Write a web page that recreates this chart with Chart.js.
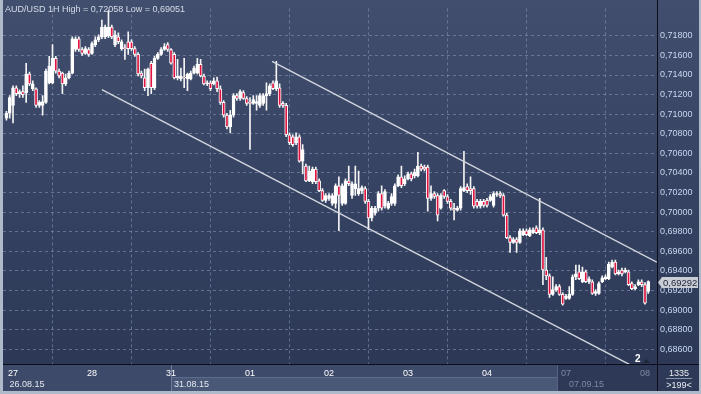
<!DOCTYPE html>
<html>
<head>
<meta charset="utf-8">
<script src="https://cdn.jsdelivr.net/npm/chart.js@4.4.1/dist/chart.umd.min.js"></script>
<style>
  html, body { margin: 0; padding: 0; background: #aeb9ca; }
  #wrap { width: 701px; height: 394px; }
</style>
</head>
<body>
<div id="wrap"><canvas id="fxChart" width="701" height="394"></canvas></div>
<script>
// ── AUD/USD hourly candles, 26.08.15 22:00 -> 08.09.15 01:00 ──
const symbolText = 'AUD/USD 1H';

const dayLabels  = ['27', '28', '31', '01', '02', '03', '04', '07', '08'];
const dayStarts  = [2, 26, 50, 74, 98, 122, 146, 170, 194];
const weekLabels = ['26.08.15', '31.08.15', '07.09.15'];
const weekStarts = [0, 50, 170];

const priceTicks = [
  0.686, 0.688, 0.690, 0.692, 0.694, 0.696, 0.698, 0.700, 0.702,
  0.704, 0.706, 0.708, 0.710, 0.712, 0.714, 0.716, 0.718
];

const opens = [
  0.7096, 0.7101,
  // 27
  0.7109, 0.7127, 0.7121, 0.7123, 0.7122, 0.7141, 0.7126, 0.7126, 0.7109, 0.7109, 0.7112, 0.7132,
  0.7132, 0.7157, 0.7144, 0.7142, 0.7131, 0.7137, 0.7142, 0.7166, 0.7177, 0.7166, 0.7162, 0.7166,
  // 28
  0.7162, 0.7171, 0.7176, 0.7179, 0.7179, 0.7180, 0.7189, 0.7171, 0.7179, 0.7167, 0.7168, 0.7174,
  0.7174, 0.7167, 0.7161, 0.7142, 0.7137, 0.7127, 0.7152, 0.7127, 0.7157, 0.7161, 0.7166, 0.7171,
  // 31
  0.7166, 0.7161, 0.7137, 0.7136, 0.7138, 0.7136, 0.7136, 0.7142, 0.7142, 0.7151, 0.7139, 0.7131,
  0.7132, 0.7131, 0.7134, 0.7126, 0.7112, 0.7099, 0.7087, 0.7099, 0.7119, 0.7116, 0.7122, 0.7116,
  // 01
  0.7112, 0.7111, 0.7111, 0.7109, 0.7111, 0.7119, 0.7121, 0.7132, 0.7126, 0.7127, 0.7111, 0.7109,
  0.7079, 0.7077, 0.7071, 0.7077, 0.7052, 0.7047, 0.7032, 0.7031, 0.7044, 0.7032, 0.7022, 0.7012,
  // 02
  0.7014, 0.7009, 0.7009, 0.7027, 0.7009, 0.7009, 0.7032, 0.7017, 0.7024, 0.7019, 0.7022, 0.7024,
  0.7011, 0.6994, 0.6999, 0.7004, 0.7019, 0.7006, 0.7004, 0.7009, 0.7009, 0.7027, 0.7036, 0.7029,
  // 03
  0.7034, 0.7039, 0.7037, 0.7037, 0.7047, 0.7046, 0.7046, 0.7014, 0.7019, 0.7017, 0.7004, 0.7022,
  0.7016, 0.7011, 0.7004, 0.7002, 0.7004, 0.7022, 0.7026, 0.7024, 0.7024, 0.7011, 0.7006, 0.7011,
  // 04
  0.7012, 0.7012, 0.7007, 0.7018, 0.7019, 0.7017, 0.6997, 0.6974, 0.6969, 0.6972, 0.6969, 0.6977,
  0.6981, 0.6976, 0.6979, 0.6984, 0.6979, 0.6982, 0.6941, 0.6935, 0.6916, 0.6921, 0.6924, 0.6916,
  // 07
  0.6912, 0.6912, 0.6916, 0.6934, 0.6939, 0.6929, 0.6939, 0.6929, 0.6929, 0.6917, 0.6917, 0.6929,
  0.6932, 0.6932, 0.6944, 0.6949, 0.6937, 0.6941, 0.6939, 0.6939, 0.6927, 0.6922, 0.6926, 0.6929,
  // 08
  0.6926, 0.6919
];

const highs = [
  0.7103, 0.7119,
  0.7129, 0.7129, 0.7125, 0.7129, 0.7152, 0.7143, 0.7134, 0.7127, 0.7114, 0.7119, 0.7146, 0.7159,
  0.7171, 0.7159, 0.7146, 0.7143, 0.7141, 0.7144, 0.7179, 0.7179, 0.7179, 0.7168, 0.7169, 0.7168,
  0.7174, 0.7179, 0.7181, 0.7196, 0.7191, 0.72058, 0.7191, 0.7185, 0.7183, 0.7176, 0.7171, 0.7184,
  0.7176, 0.7169, 0.7163, 0.7144, 0.7146, 0.7147, 0.7154, 0.7159, 0.7163, 0.7168, 0.7172, 0.7173,
  0.7167, 0.7163, 0.7156, 0.7147, 0.7157, 0.7142, 0.7144, 0.7149, 0.7157, 0.7156, 0.7141, 0.7134,
  0.7134, 0.7137, 0.7138, 0.7129, 0.7114, 0.7101, 0.7104, 0.7121, 0.7121, 0.7125, 0.7124, 0.7118,
  0.7117, 0.7119, 0.7119, 0.7121, 0.7121, 0.7132, 0.7131, 0.7134, 0.7154, 0.7131, 0.7113, 0.7111,
  0.7081, 0.7079, 0.7081, 0.7079, 0.7069, 0.7049, 0.7047, 0.7046, 0.7046, 0.7034, 0.7024, 0.7019,
  0.7019, 0.7019, 0.7029, 0.7036, 0.7029, 0.7034, 0.7047, 0.7031, 0.7047, 0.7042, 0.7027, 0.7026,
  0.7013, 0.7006, 0.7006, 0.7021, 0.7027, 0.7023, 0.7011, 0.7019, 0.7029, 0.7038, 0.7047, 0.7037,
  0.7041, 0.7041, 0.7044, 0.7061, 0.7049, 0.7048, 0.7048, 0.7027, 0.7021, 0.7019, 0.7019, 0.7023,
  0.7018, 0.7013, 0.7009, 0.7006, 0.7026, 0.7062, 0.7029, 0.7036, 0.7026, 0.7013, 0.7013, 0.7013,
  0.7014, 0.7018, 0.7021, 0.7021, 0.7021, 0.7019, 0.6999, 0.6976, 0.6974, 0.6974, 0.6983, 0.6983,
  0.6983, 0.6984, 0.6984, 0.6986, 0.7014, 0.6984, 0.6954, 0.6937, 0.6934, 0.6926, 0.6926, 0.6918,
  0.6916, 0.6924, 0.6936, 0.6946, 0.6946, 0.6944, 0.6941, 0.6934, 0.6931, 0.6921, 0.6929, 0.6935,
  0.6936, 0.6949, 0.6951, 0.6951, 0.6941, 0.6943, 0.6943, 0.6941, 0.6929, 0.6926, 0.6931, 0.6931,
  0.6928, 0.6930
];

const lows = [
  0.7094, 0.7096,
  0.7091, 0.7119, 0.7117, 0.7117, 0.7112, 0.7129, 0.7124, 0.7107, 0.7107, 0.7099, 0.7111, 0.7131,
  0.7131, 0.7142, 0.7137, 0.7121, 0.7129, 0.7136, 0.7141, 0.7164, 0.7164, 0.7160, 0.7161, 0.7159,
  0.7161, 0.7169, 0.7174, 0.7177, 0.7177, 0.7178, 0.7177, 0.7169, 0.7172, 0.7165, 0.7156, 0.7161,
  0.7165, 0.7159, 0.7139, 0.7137, 0.7124, 0.7119, 0.7121, 0.7125, 0.7156, 0.7160, 0.7165, 0.7164,
  0.7151, 0.7136, 0.7135, 0.7134, 0.7127, 0.7124, 0.7135, 0.7141, 0.7141, 0.7138, 0.7130, 0.7129,
  0.7124, 0.7130, 0.7123, 0.7110, 0.7097, 0.7085, 0.7081, 0.7097, 0.7114, 0.7114, 0.7115, 0.7109,
  0.7064, 0.7110, 0.7104, 0.7107, 0.7109, 0.7104, 0.7119, 0.7125, 0.7124, 0.7107, 0.7107, 0.7077,
  0.7069, 0.7067, 0.7069, 0.7051, 0.7039, 0.7031, 0.7031, 0.7029, 0.7029, 0.7021, 0.7011, 0.7010,
  0.7012, 0.7007, 0.7004, 0.6981, 0.7007, 0.7008, 0.7027, 0.7014, 0.7017, 0.7017, 0.7019, 0.7009,
  0.6982, 0.6991, 0.6997, 0.7001, 0.7002, 0.7004, 0.7003, 0.7007, 0.7007, 0.7026, 0.7025, 0.7027,
  0.7033, 0.7032, 0.7035, 0.7036, 0.7042, 0.7042, 0.7001, 0.7012, 0.7014, 0.6991, 0.7003, 0.7014,
  0.7009, 0.7002, 0.6992, 0.7001, 0.7002, 0.7021, 0.7020, 0.7018, 0.7004, 0.7004, 0.7004, 0.7005,
  0.7005, 0.7011, 0.7005, 0.7016, 0.7015, 0.6996, 0.6973, 0.6959, 0.6968, 0.6959, 0.6968, 0.6976,
  0.6976, 0.6975, 0.6978, 0.6978, 0.6977, 0.6926, 0.6931, 0.6913, 0.6915, 0.6919, 0.6915, 0.69051,
  0.6911, 0.6911, 0.6915, 0.6931, 0.6931, 0.6928, 0.6928, 0.6927, 0.6916, 0.6915, 0.6916, 0.6928,
  0.6931, 0.6931, 0.6943, 0.6936, 0.6936, 0.6935, 0.6938, 0.6925, 0.6921, 0.6921, 0.6925, 0.6924,
  0.6906, 0.6917
];

const closes = [
  0.7101, 0.7117,
  0.7127, 0.7121, 0.7123, 0.7120, 0.7141, 0.7131, 0.7131, 0.7109, 0.7112, 0.7113, 0.7144, 0.7149,
  0.7157, 0.7144, 0.7139, 0.7131, 0.7137, 0.7142, 0.7177, 0.7177, 0.7166, 0.7162, 0.7167, 0.7161,
  0.7172, 0.7176, 0.7179, 0.7189, 0.7189, 0.7189, 0.7179, 0.7181, 0.7174, 0.7174, 0.7167, 0.7167,
  0.7167, 0.7161, 0.7141, 0.7139, 0.7127, 0.7146, 0.7127, 0.7157, 0.7161, 0.7166, 0.7169, 0.7166,
  0.7152, 0.7137, 0.7139, 0.7139, 0.7137, 0.7141, 0.7142, 0.7147, 0.7151, 0.7139, 0.7131, 0.7132,
  0.7126, 0.7134, 0.7126, 0.7112, 0.7099, 0.7087, 0.7099, 0.7119, 0.7116, 0.7123, 0.7116, 0.7111,
  0.7111, 0.7115, 0.7113, 0.7119, 0.7119, 0.7121, 0.7129, 0.7126, 0.7134, 0.7109, 0.7109, 0.7079,
  0.7071, 0.7069, 0.7077, 0.7052, 0.7064, 0.7032, 0.7042, 0.7044, 0.7031, 0.7022, 0.7012, 0.7017,
  0.7017, 0.7017, 0.7027, 0.7017, 0.7027, 0.7032, 0.7029, 0.7029, 0.7029, 0.7024, 0.7025, 0.7011,
  0.6994, 0.7004, 0.7004, 0.7019, 0.7004, 0.7021, 0.7009, 0.7016, 0.7027, 0.7036, 0.7027, 0.7034,
  0.7039, 0.7034, 0.7041, 0.7047, 0.7044, 0.7044, 0.7014, 0.7019, 0.7016, 0.6997, 0.7017, 0.7016,
  0.7011, 0.7004, 0.7002, 0.7004, 0.7024, 0.7025, 0.7022, 0.7022, 0.7006, 0.7006, 0.7011, 0.7007,
  0.7007, 0.7016, 0.7019, 0.7019, 0.7017, 0.6997, 0.6974, 0.6969, 0.6972, 0.6969, 0.6981, 0.6981,
  0.6977, 0.6982, 0.6982, 0.6979, 0.6982, 0.6941, 0.6935, 0.6916, 0.6921, 0.6924, 0.6916, 0.6906,
  0.6914, 0.6916, 0.6934, 0.6937, 0.6932, 0.6939, 0.6929, 0.6932, 0.6917, 0.6919, 0.6927, 0.6933,
  0.6934, 0.6947, 0.6949, 0.6937, 0.6939, 0.6937, 0.6941, 0.6926, 0.6922, 0.6924, 0.6929, 0.6926,
  0.6907, 0.69292
];

// channel lines drawn by hand on the original (bar index, price)
const channelUpper = [{ x: 80.7, y: 0.7154 }, { x: 197.6, y: 0.6949 }];
const channelLower = [{ x: 29.0, y: 0.7125 }, { x: 197.6, y: 0.6830 }];
const channelLabel = '2';

const infoTop    = '1335';
const infoBottom = '>199<';

const FONT = '"Liberation Sans", Arial, sans-serif';
const fmt = (v) => v.toFixed(5).replace('.', ',');

const chromePlugin = {
  id: 'chrome',
  beforeDraw(chart) {
    const { ctx, chartArea: a, width, height } = chart;
    ctx.save();
    ctx.fillStyle = '#aeb9ca';
    ctx.fillRect(0, 0, width, height);

    // plot + price axis background
    const g = ctx.createLinearGradient(0, 0, 0, a.bottom);
    g.addColorStop(0, '#414e6e');
    g.addColorStop(1, '#2c3856');
    ctx.fillStyle = g;
    ctx.fillRect(a.left, 0, width - 2 - a.left, a.bottom);

    // time axis panel
    ctx.fillStyle = '#3d4a6a';
    ctx.fillRect(a.left, a.bottom, a.right - a.left, 27);
    ctx.fillStyle = '#4a5878';
    ctx.fillRect(172, a.bottom + 14, 386, 13);
    ctx.fillStyle = '#5d6c8b';
    ctx.fillRect(172, a.bottom + 13, 386, 1);
    ctx.fillStyle = '#2d3956';
    ctx.fillRect(558, a.bottom, a.right - 558, 27);
    ctx.fillStyle = '#55637e';
    ctx.fillRect(557, a.bottom, 1, 27);
    ctx.fillStyle = '#6e7c98';
    ctx.fillRect(171, a.bottom, 1, 27);

    // corner box
    ctx.fillStyle = '#2d3956';
    ctx.fillRect(a.right, a.bottom, width - 2 - a.right, 27);
    ctx.restore();
  },
  afterDraw(chart) {
    const { ctx, chartArea: a, width, scales } = chart;
    const xs = scales.x, ys = scales.y;
    ctx.save();

    // axis separators
    ctx.fillStyle = '#0b0e16';
    ctx.fillRect(a.right, 0, 1, a.bottom + 27);
    ctx.fillRect(a.left, a.bottom, width - 2 - a.left, 1);

    ctx.font = '9px ' + FONT;
    ctx.textBaseline = 'alphabetic';

    // title
    const hi = Math.max(...highs), lo = Math.min(...lows);
    ctx.fillStyle = '#d6dde8';
    ctx.fillText(symbolText + ' High = ' + fmt(hi) + ' Low = ' + fmt(lo), 5, 11.5);

    // week labels
    weekLabels.forEach((t, i) => {
      ctx.fillStyle = i === weekLabels.length - 1 ? '#7d8aa2' : '#e4e8f0';
      ctx.fillText(t, xs.getPixelForValue(weekStarts[i]) + 3, a.bottom + 22.5);
    });

    // last price marker
    const last = closes[closes.length - 1];
    const py = Math.round(ys.getPixelForValue(last)) + 0.5;
    const bx = a.right + 1;
    ctx.fillStyle = '#c9ced6';
    ctx.beginPath();
    ctx.moveTo(bx, py);
    ctx.lineTo(bx + 4, py - 5.5);
    ctx.lineTo(bx + 40, py - 5.5);
    ctx.lineTo(bx + 40, py + 5.5);
    ctx.lineTo(bx + 4, py + 5.5);
    ctx.closePath();
    ctx.fill();
    ctx.fillStyle = '#1a2236';
    ctx.font = '9.5px ' + FONT;
    ctx.fillText(fmt(last), bx + 5, py + 3.5);

    // channel number
    ctx.font = 'bold 10px ' + FONT;
    ctx.fillStyle = '#ffffff';
    ctx.fillText(channelLabel, 635, a.bottom - 2);
    ctx.fillStyle = '#1e2638';
    ctx.beginPath();
    ctx.moveTo(643, a.bottom - 1);
    ctx.lineTo(646.5, a.bottom - 5);
    ctx.lineTo(650, a.bottom - 1);
    ctx.closePath();
    ctx.fill();

    // corner info box
    const cx = (a.right + width - 2) / 2;
    ctx.font = '9px ' + FONT;
    ctx.textAlign = 'center';
    ctx.fillStyle = '#e8ecf2';
    ctx.fillText(infoTop, cx + 1, a.bottom + 11.5);
    ctx.fillText(infoBottom, cx + 1, a.bottom + 24);
    ctx.fillStyle = '#8a96ac';
    ctx.fillRect(cx - 12, a.bottom + 14, 26, 1);
    ctx.restore();
  }
};

function drawFxChart() {
  const canvas = document.getElementById('fxChart');
  if (!canvas) return;
  const ctx = canvas.getContext('2d');

  const bodies = opens.map((o, i) => ({ x: i, y: [o, closes[i]] }));
  const wicks  = lows.map((l, i) => ({ x: i, y: [l, highs[i]] }));
  const gridDash = { display: false, dash: [3, 3] };

  new Chart(ctx, {
    type: 'bar',
    data: {
      datasets: [
        {
          type: 'line', data: channelUpper, order: 0,
          borderColor: '#d2d6de', borderWidth: 1.4, pointRadius: 0, tension: 0
        },
        {
          type: 'line', data: channelLower, order: 0,
          borderColor: '#d2d6de', borderWidth: 1.4, pointRadius: 0, tension: 0
        },
        {
          data: bodies, order: 1, grouped: false,
          barThickness: 3,
          borderWidth: 1,
          borderSkipped: false,
          borderColor: '#ffffff',
          backgroundColor: (c) => closes[c.dataIndex] >= opens[c.dataIndex] ? '#ffffff' : '#e0123f'
        },
        {
          data: wicks, order: 2, grouped: false,
          barThickness: 1,
          borderWidth: 0,
          backgroundColor: '#f4f4f4'
        }
      ]
    },
    plugins: [chromePlugin],
    options: {
      responsive: false,
      devicePixelRatio: 1,
      animation: false,
      events: [],
      layout: { padding: { left: 3, top: 1, right: 2, bottom: 3 } },
      plugins: { legend: { display: false }, tooltip: { enabled: false } },
      scales: {
        x: {
          type: 'linear', offset: false,
          min: -1.04, max: 197.65,
          afterBuildTicks: (s) => { s.ticks = dayStarts.map((v) => ({ value: v })); },
          afterFit: (s) => { s.height = 27; },
          grid: { color: 'rgba(140,155,185,0.55)', drawTicks: false },
          border: gridDash,
          ticks: {
            autoSkip: false, maxRotation: 0, padding: 4,
            font: { family: FONT, size: 9 },
            color: (c) => c.index >= 7 ? '#7d8aa2' : '#ffffff',
            callback: (v) => dayLabels[dayStarts.indexOf(v)]
          }
        },
        y: {
          position: 'right',
          min: 0.6845, max: 0.7208,
          afterBuildTicks: (s) => { s.ticks = priceTicks.map((v) => ({ value: v })); },
          afterFit: (s) => { s.width = 42; },
          grid: { color: 'rgba(140,155,185,0.55)', drawTicks: false },
          border: gridDash,
          ticks: {
            padding: 3,
            font: { family: FONT, size: 9 },
            color: '#c8d8f0',
            callback: (v) => fmt(v)
          }
        }
      }
    }
  });
}

window.addEventListener('DOMContentLoaded', () => {
  drawFxChart();
});
</script>
</body>
</html>
